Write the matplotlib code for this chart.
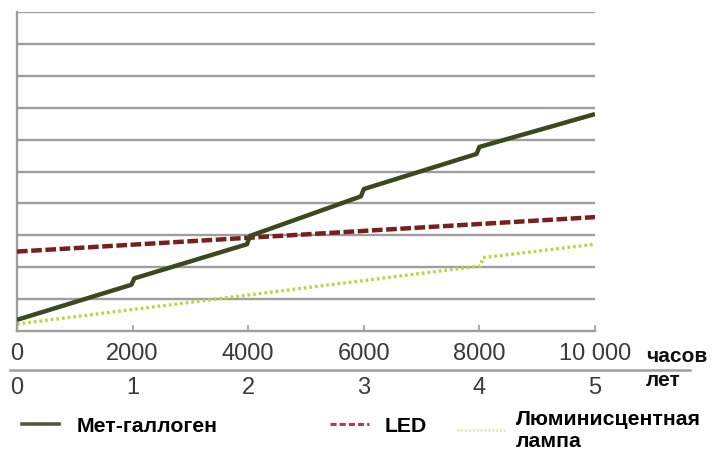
import matplotlib
matplotlib.use("Agg")
import matplotlib.pyplot as plt
import matplotlib.transforms as mtransforms
from matplotlib.lines import Line2D

# data (y in grid units, 10 grid cells)
hours_ticks = [0, 2000, 4000, 6000, 8000, 10000]
hours_labels = ["0", "2000", "4000", "6000", "8000", "10 000"]
years = [0, 1, 2, 3, 4, 5]

mh_hours = [0, 1980, 2030, 3980, 4030, 5950, 6000, 7950, 8000, 10000]
mh_cost = [0.35, 1.45, 1.65, 2.72, 2.98, 4.22, 4.45, 5.55, 5.77, 6.80]

led_hours = [0, 10000]
led_cost = [2.49, 3.57]

fl_hours = [0, 8020, 8060, 10000]
fl_cost = [0.22, 2.04, 2.30, 2.72]

grid_levels = [1, 2, 3, 4, 5, 6, 7, 8, 9, 10]

C_MH = "#3a4a1e"
C_LED = "#7a1f1f"
C_FL = "#b9d43f"
C_GRID = "#9e9e9e"
C_TXT = "#3a3a3a"

plt.rcParams['font.family'] = ['Liberation Sans', 'DejaVu Sans']

fig = plt.figure(figsize=(7.15, 4.52), dpi=100)
ax = fig.add_axes([17 / 715, 1 - 332 / 452, (595 - 17) / 715, (332 - 13) / 452])

for g in grid_levels:
    ax.axhline(g, color=C_GRID, lw=1.7, zorder=1)

l1, = ax.plot(mh_hours, mh_cost, color=C_MH, lw=3.2, solid_capstyle='butt', zorder=4)
l2, = ax.plot(led_hours, led_cost, color=C_LED, lw=3.2, ls=(0, (2.4, 0.8)), zorder=3)
l3, = ax.plot(fl_hours, fl_cost, color=C_FL, lw=2.4, ls=(0, (0.8, 0.9)), zorder=2)

ax.set_xlim(0, 10000)
ax.set_ylim(0, 10)
ax.set_yticks([])
for s in ['top', 'right']:
    ax.spines[s].set_visible(False)
for s in ['left', 'bottom']:
    ax.spines[s].set_color(C_GRID)
    ax.spines[s].set_linewidth(1.7)

ax.set_xticks(hours_ticks)
ax.set_xticklabels(hours_labels)
ax.tick_params(axis='x', direction='in', length=4, width=1.2, color=C_GRID,
               labelsize=17, labelcolor=C_TXT, pad=8)

# second row with years
trans = mtransforms.blended_transform_factory(ax.transData, fig.transFigure)
for y in years:
    ax.text(y * 2000, 1 - 388 / 452, str(y), transform=trans, ha='center',
            va='center', fontsize=17, color=C_TXT)

fig.text(646 / 715, 1 - 357 / 452, "часов", fontsize=15, fontweight='bold',
         ha='left', va='center', color='#111111')
fig.text(646 / 715, 1 - 381 / 452, "лет", fontsize=15, fontweight='bold',
         ha='left', va='center', color='#111111')

fig.add_artist(Line2D([10 / 715, 690 / 715], [1 - 371 / 452, 1 - 371 / 452],
                      transform=fig.transFigure, color=C_GRID, lw=1.8))

# legend entries
h1 = Line2D([], [], color="#4f5a38", lw=2.6)
h2 = Line2D([], [], color="#b0404a", lw=2.2, ls=(0, (2.0, 1.0)))
h3 = Line2D([], [], color="#d8e8a0", lw=2, ls=(0, (0.6, 0.8)))
entries = [
    (h1, "Мет-галлоген", 22 / 715, 1 - 427 / 452, 1.75, 0.8),
    (h2, "LED", 330 / 715, 1 - 427 / 452, 1.85, 0.7),
    (h3, "Люминисцентная\nлампа", 457 / 715, 1 - 431 / 452, 2.25, 0.5),
]
for h, lab, x, y, hl, tp in entries:
    fig.legend(handles=[h], labels=[lab], loc='center left', bbox_to_anchor=(x, y),
               frameon=False, handlelength=hl, handletextpad=tp,
               prop={'size': 15.3, 'weight': 'bold'}, labelspacing=0.1,
               borderpad=0, borderaxespad=0)

fig.savefig("out.png", dpi=100)
